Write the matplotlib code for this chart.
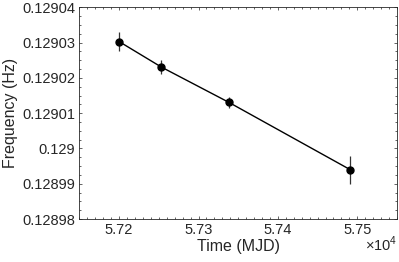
import numpy as np
import matplotlib
matplotlib.use("Agg")
import matplotlib.pyplot as plt
from matplotlib.ticker import MultipleLocator

# data
mjd = [57200, 57253, 57338, 57491]
freq = [0.1290303, 0.1290231, 0.1290131, 0.1289940]
ferr = [0.0000028, 0.0000019, 0.0000016, 0.0000040]

xticks = [57200, 57300, 57400, 57500]
xticklabels = ["5.72", "5.73", "5.74", "5.75"]
yticks = [0.12898, 0.12899, 0.12900, 0.12901, 0.12902, 0.12903, 0.12904]
yticklabels = ["0.12898", "0.12899", "0.129", "0.12901", "0.12902", "0.12903", "0.12904"]

plt.rcParams['font.family'] = ['Liberation Sans', 'DejaVu Sans']
plt.rcParams['mathtext.fontset'] = 'custom'
plt.rcParams['mathtext.rm'] = 'Liberation Sans'
dark = (0.15, 0.15, 0.15)

fig = plt.figure(figsize=(3.99, 2.62), dpi=100)
ax = fig.add_axes([0.199, 0.164, 0.796, 0.808])

ax.errorbar(mjd, freq, yerr=ferr, fmt='none', ecolor='#333333', elinewidth=0.9, capsize=0)
ax.plot(mjd, freq, '-', color='black', lw=1.0, marker='o', ms=5, mfc='black', mec='black')

ax.set_xlim(57150, 57550)
ax.set_ylim(0.12898, 0.12904)
ax.set_xticks(xticks)
ax.set_xticklabels(xticklabels)
ax.set_yticks(yticks)
ax.set_yticklabels(yticklabels)
ax.xaxis.set_minor_locator(MultipleLocator(10))
ax.yaxis.set_minor_locator(MultipleLocator(0.0000025))

ax.tick_params(which='both', direction='in', top=True, right=True, colors=dark,
               labelsize=10.5, width=0.5)
ax.tick_params(which='major', length=2.5, pad=3)
ax.tick_params(which='minor', length=1.4)
for s in ax.spines.values():
    s.set_linewidth(0.6)
    s.set_color(dark)

ax.set_xlabel("Time (MJD)", fontsize=11.5, color=dark, labelpad=1)
ax.set_ylabel("Frequency (Hz)", fontsize=11.5, color=dark, labelpad=3)
ax.text(1.0, -0.075, r"$\times\mathrm{10}^{4}$", transform=ax.transAxes, ha='right', va='top',
        fontsize=10.5, color=dark)

fig.savefig("out.png", dpi=100)
